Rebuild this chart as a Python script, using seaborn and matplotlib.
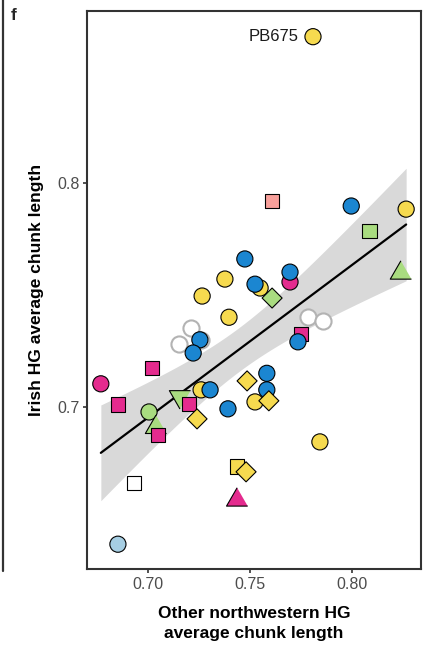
import numpy as np
import pandas as pd
import matplotlib
matplotlib.use("Agg")
import matplotlib.pyplot as plt
from matplotlib.lines import Line2D
import seaborn as sns

sns.set_theme(style="white")
plt.rcParams['font.family'] = ['Liberation Sans', 'DejaVu Sans']

# ---------------- data ----------------
# open grey samples (white fill, grey outline)
open_x = [0.7210, 0.7152, 0.7259, 0.7786, 0.7859]
open_y = [0.7352, 0.7280, 0.7298, 0.7401, 0.7383]

# coloured samples, listed in drawing order
other_hg = [0.7998, 0.8268, 0.8242, 0.8087, 0.7608, 0.7475, 0.7377, 0.7550,
            0.7525, 0.7697, 0.7697, 0.7609, 0.7265, 0.7397, 0.7254, 0.7221,
            0.7750, 0.7736, 0.6767, 0.7019, 0.6851, 0.7004, 0.7038, 0.7048,
            0.7156, 0.7200, 0.7260, 0.7304, 0.7240, 0.7392, 0.7486, 0.7583,
            0.7583, 0.7525, 0.7593, 0.7844, 0.7437, 0.7481, 0.7437, 0.6930,
            0.6851, 0.7810]
irish_hg = [0.7898, 0.7884, 0.7598, 0.7786, 0.7921, 0.7661, 0.7571, 0.7531,
            0.7548, 0.7558, 0.7602, 0.7486, 0.7495, 0.7400, 0.7299, 0.7240,
            0.7325, 0.7290, 0.7102, 0.7172, 0.7010, 0.6976, 0.6907, 0.6873,
            0.7044, 0.7012, 0.7075, 0.7075, 0.6945, 0.6990, 0.7115, 0.7075,
            0.7149, 0.7021, 0.7026, 0.6842, 0.6732, 0.6708, 0.6582, 0.6658,
            0.6384, 0.8656]
group = ['blue', 'yellow', 'green', 'green', 'salmon', 'blue', 'yellow', 'yellow',
         'blue', 'magenta', 'blue', 'green', 'yellow', 'yellow', 'blue', 'blue',
         'magenta', 'blue', 'magenta', 'magenta', 'magenta', 'green', 'green', 'magenta',
         'green', 'magenta', 'yellow', 'blue', 'yellow', 'blue', 'yellow', 'blue',
         'blue', 'yellow', 'yellow', 'yellow', 'yellow', 'yellow', 'magenta', 'white',
         'lightblue', 'yellow']
shape = ['circle', 'circle', 'triangle', 'square', 'square', 'circle', 'circle', 'circle',
         'circle', 'circle', 'circle', 'diamond', 'circle', 'circle', 'circle', 'circle',
         'square', 'circle', 'circle', 'square', 'square', 'circle', 'triangle', 'square',
         'triangle_down', 'square', 'circle', 'circle', 'diamond', 'circle', 'diamond', 'circle',
         'circle', 'circle', 'diamond', 'circle', 'square', 'diamond', 'triangle', 'square',
         'circle', 'circle']
label_sample = "PB675"
label_x, label_y = 0.7810, 0.8656

palette = {'yellow': '#F6DA4F', 'blue': '#1B86D1', 'magenta': '#E42B8E',
           'green': '#A9DC80', 'salmon': '#F8A09B', 'lightblue': '#A6CEE3',
           'white': '#FFFFFF'}

tri_up = [(0, 0.577), (-0.5, -0.289), (0.5, -0.289)]
tri_dn = [(0, -0.577), (-0.5, 0.289), (0.5, 0.289)]
markers = {'circle': 'o', 'square': 's', 'diamond': 'D',
           'triangle': tri_up, 'triangle_down': tri_dn}
sizes = {'circle': 135, 'square': 110, 'diamond': 104,
         'triangle': 310, 'triangle_down': 310}

df = pd.DataFrame({'other': other_hg, 'irish': irish_hg,
                   'group': group, 'shape': shape})
df_open = pd.DataFrame({'other': open_x, 'irish': open_y})
df_all = pd.concat([df[['other', 'irish']], df_open], ignore_index=True)

# ---------------- figure ----------------
fig = plt.figure(figsize=(4.33, 6.46), dpi=100)
ax = fig.add_axes([87 / 433, 1 - 569 / 646, (421 - 87) / 433, (569 - 11) / 646])

# analytic 95% confidence band of the linear fit (as in lm smoothing)
xv = df_all['other'].to_numpy()
yv = df_all['irish'].to_numpy()
n = len(xv)
slope, intercept = np.polyfit(xv, yv, 1)
resid = yv - (intercept + slope * xv)
s_err = np.sqrt(np.sum(resid ** 2) / (n - 2))
xg = np.linspace(xv.min(), xv.max(), 200)
se = s_err * np.sqrt(1 / n + (xg - xv.mean()) ** 2 / np.sum((xv - xv.mean()) ** 2))
t_val = 2.014  # t(0.975, df = n - 2)
yfit = intercept + slope * xg
ax.fill_between(xg, yfit - t_val * se, yfit + t_val * se, color='black',
                alpha=0.15, linewidth=0, zorder=1)

sns.regplot(data=df_all, x='other', y='irish', ax=ax, scatter=False,
            color='black', ci=None, truncate=True,
            line_kws=dict(lw=1.6, zorder=2))

sns.scatterplot(data=df_open, x='other', y='irish', ax=ax, color='white',
                edgecolor='#B3B3B3', linewidth=1.5, s=135, legend=False, zorder=3)

sns.scatterplot(data=df, x='other', y='irish', ax=ax, hue='group', style='shape',
                size='shape', palette=palette, markers=markers, sizes=sizes,
                edgecolor='black', linewidth=0.8, legend=False, zorder=4)

ax.annotate(label_sample, (label_x, label_y), xytext=(-10, 0),
            textcoords='offset points', ha='right', va='center',
            fontsize=12, color='#1a1a1a')

ax.set_xlim(0.6699, 0.8341)
ax.set_ylim(0.6273, 0.8771)
ax.set_xticks([0.70, 0.75, 0.80])
ax.set_xticklabels(['0.70', '0.75', '0.80'])
ax.set_yticks([0.7, 0.8])
ax.set_yticklabels(['0.7', '0.8'])

for sp in ax.spines.values():
    sp.set_color('#333333')
    sp.set_linewidth(1.5)
ax.tick_params(axis='both', which='both', length=3, width=1.2, color='#333333',
               labelcolor='#4D4D4D', labelsize=11.5, pad=2.5,
               bottom=True, left=True)

ax.set_xlabel("Other northwestern HG\naverage chunk length", fontsize=12.5,
              fontweight='bold', color='black', labelpad=10, linespacing=1.45)
ax.set_ylabel("Irish HG average chunk length", fontsize=12.5,
              fontweight='bold', color='black', labelpad=9)

fig.text(14 / 433, 1 - 15 / 646, 'f', fontsize=12.5, fontweight='bold',
         ha='center', va='center')
fig.add_artist(Line2D([2.5 / 433, 2.5 / 433], [1, 1 - 571 / 646],
                      color='#333333', lw=1.6, transform=fig.transFigure))

fig.savefig('out.png', dpi=100)
